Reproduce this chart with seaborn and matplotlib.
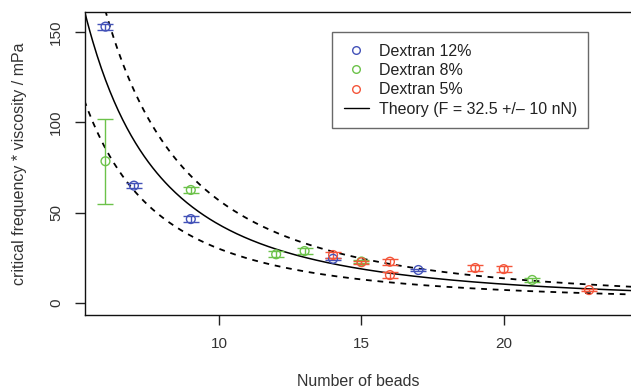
import numpy as np
import pandas as pd
import matplotlib
matplotlib.use("Agg")
import matplotlib.pyplot as plt
from matplotlib.lines import Line2D
import seaborn as sns

# ---- data ----
beads_12 = [6, 7, 9, 14, 17]
value_12 = [153, 65, 46.5, 24.5, 18.3]
err_12 = [1.7, 1.2, 1.5, 0.6, 0.7]

beads_8 = [6, 9, 12, 13, 15, 21]
value_8 = [78.5, 62.6, 27, 28.8, 23, 12.8]
err_8 = [23.5, 1.7, 1.7, 1.5, 1.0, 1.2]

beads_5 = [14, 15, 16, 16, 19, 20, 23]
value_5 = [26.6, 22.6, 22.9, 15.5, 19.4, 18.8, 7.2]
err_5 = [1.5, 0.8, 1.6, 1.5, 1.6, 1.5, 0.5]

force_nN = 32.5
force_err = 10.0
theory_k = 149.7          # scale so that theory(F=32.5) matches the drawn curve
theory_exp = 2.05

labels = ["Dextran 12%", "Dextran 8%", "Dextran 5%"]
theory_label = "Theory (F = 32.5 +/\u2013 10 nN)"
colors = ["#4352b8", "#6cc24a", "#f4553a"]

# ---- figure ----
sns.set_theme(style="ticks")
plt.rcParams["font.family"] = ["Liberation Sans", "DejaVu Sans"]

fig = plt.figure(figsize=(6.31, 3.90), dpi=100)
W, H = 631, 390
left, right, top, bottom = 85, 634, 12, 315
aw, ah = right - left, bottom - top
ax = fig.add_axes([left / W, 1 - bottom / H, aw / W, ah / H])

# theory curves
n_grid = np.linspace(5.0, 25.0, 400)
def theory(n, f):
    return theory_k * f / n ** theory_exp

curves = pd.DataFrame({
    "N": np.concatenate([n_grid] * 3),
    "val": np.concatenate([theory(n_grid, force_nN),
                           theory(n_grid, force_nN + force_err),
                           theory(n_grid, force_nN - force_err)]),
    "kind": ["mid"] * len(n_grid) + ["hi"] * len(n_grid) + ["lo"] * len(n_grid),
})
sns.lineplot(data=curves[curves.kind == "mid"], x="N", y="val", color="black",
             lw=1.1, ax=ax, legend=False)
for k in ["hi", "lo"]:
    sns.lineplot(data=curves[curves.kind == k], x="N", y="val", color="black",
                 lw=1.3, ax=ax, legend=False, linestyle=(0, (3.2, 3.2)))

# data points
groups = [(beads_12, value_12, err_12), (beads_8, value_8, err_8), (beads_5, value_5, err_5)]
rows = []
for lab, col, (b, v, e) in zip(labels, colors, groups):
    ax.errorbar(b, v, yerr=e, fmt="none", ecolor=col, elinewidth=1.0,
                capsize=5.8, capthick=1.0, zorder=3)
    for bi, vi in zip(b, v):
        rows.append({"N": bi, "val": vi, "series": lab})
pts = pd.DataFrame(rows)
sns.scatterplot(data=pts, x="N", y="val", hue="series", palette=dict(zip(labels, colors)),
                marker="o", s=40, linewidth=1.0, ax=ax, legend=False, zorder=4)
coll = ax.collections[-1]
coll.set_facecolor("none")
coll.set_edgecolor([colors[labels.index(s)] for s in pts["series"]])

ax.set_xlim(5.28, 24.58)
ax.set_ylim(-6.6, 161.1)
ax.set_xticks([10, 15, 20])
ax.set_yticks([0, 50, 100, 150])
ax.tick_params(axis="both", direction="out", length=7.2, width=1.0, colors="#222222",
               labelsize=11, labelcolor="#333333")
ax.tick_params(axis="x", pad=9)
ax.tick_params(axis="y", pad=8.5)
for lbl in ax.get_yticklabels():
    lbl.set_rotation(90)
    lbl.set_va("center")
for sp in ax.spines.values():
    sp.set_visible(True)
    sp.set_color("#111111")
    sp.set_linewidth(1.0)

ax.set_xlabel("Number of beads", fontsize=11.5, color="#333333")
ax.set_ylabel("critical frequency * viscosity / mPa", fontsize=11.5, color="#333333")
ax.xaxis.set_label_coords((358 - left) / aw, -(374 - bottom) / ah)
ax.yaxis.set_label_coords(-(left - 27) / aw, 0.5)

# legend
handles = [Line2D([], [], marker="o", linestyle="none", markerfacecolor="none",
                  markeredgecolor=c, markersize=5.5, markeredgewidth=1.0) for c in colors]
handles.append(Line2D([], [], color="black", lw=1.0))
leg = ax.legend(handles, labels + [theory_label],
                loc="upper left", bbox_to_anchor=((332 - left) / aw, 1 - (32 - top) / ah),
                frameon=True, fancybox=False, fontsize=11.5, handlelength=1.6,
                handletextpad=0.6, borderpad=0.72, labelspacing=0.275, borderaxespad=0)
leg.get_frame().set_edgecolor("#444444")
leg.get_frame().set_linewidth(1.0)
for t in leg.get_texts():
    t.set_color("#222222")

fig.savefig("out.png", dpi=100)
